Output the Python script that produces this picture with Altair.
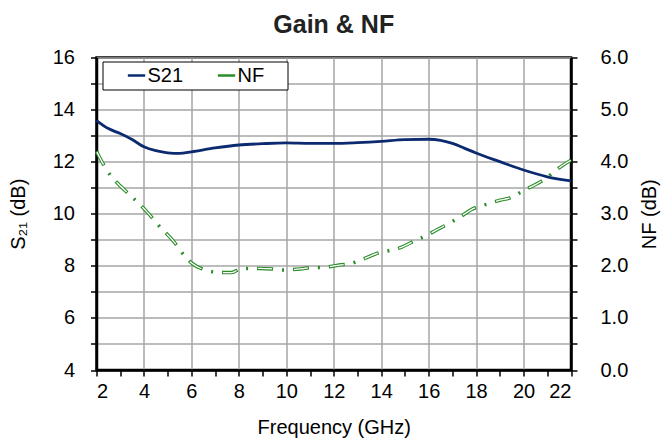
import altair as alt
import pandas as pd

# ---- data ----
freq_s21 = [2, 2.5, 3, 3.5, 4, 4.5, 5, 5.5, 6, 7, 8, 9, 10, 11, 12, 13, 14, 15, 16, 16.5, 17, 17.5, 18, 19, 20, 21, 22]
s21_db = [13.58, 13.27, 13.08, 12.85, 12.57, 12.42, 12.34, 12.32, 12.38, 12.53, 12.64, 12.69, 12.72, 12.70, 12.70,
          12.73, 12.78, 12.85, 12.86, 12.82, 12.70, 12.52, 12.33, 12.00, 11.68, 11.42, 11.26]

freq_nf = [2.0, 2.35, 2.6, 2.9, 3.5, 4.1, 4.65, 5.25, 5.75, 6.05, 6.45, 7.3, 7.7, 8.1, 8.9, 9.4, 9.8, 10.6, 11.1,
           11.5, 12.3, 12.7, 13.2, 13.9, 14.4, 14.75, 15.5, 15.9, 16.3, 17.0, 17.4, 17.8, 18.5, 19.0, 19.4, 20.1,
           20.5, 20.9, 21.5, 22.0]
nf_db = [4.2, 3.9, 3.73, 3.58, 3.32, 3.05, 2.76, 2.47, 2.17, 2.04, 1.94, 1.87, 1.87, 1.95, 1.95, 1.94, 1.92, 1.94,
         1.97, 1.97, 2.02, 2.04, 2.12, 2.25, 2.3, 2.34, 2.5, 2.58, 2.68, 2.85, 2.96, 3.08, 3.19, 3.26, 3.30, 3.47,
         3.56, 3.67, 3.88, 4.03]

series_names = ["S21", "NF"]
series_colors = ["#0b2a6f", "#2a8c2a"]

s21_df = pd.DataFrame({"freq": freq_s21, "value": s21_db, "series": "S21"})
nf_df = pd.DataFrame({"freq": freq_nf, "value": nf_db, "series": "NF"})

FONT = "Liberation Sans"
GRID = "#a6a6a6"
FS = 20

x_axis = alt.Axis(
    values=list(range(2, 23)),
    labelExpr="datum.value % 2 === 0 ? datum.label : ''",
    gridOpacity={"condition": {"test": "datum.value % 2 === 0", "value": 1}, "value": 0},
    grid=True, gridColor=GRID, gridWidth=1.5,
    title="Frequency (GHz)", titleFontSize=FS, titleFont=FONT, titleFontWeight="normal", titleColor="black",
    titlePadding=16,
    labelFontSize=FS, labelFont=FONT, labelColor="black", labelPadding=5,
    tickColor="black", tickSize=6, tickWidth=1.5,
    domainColor="black", domainWidth=2.5,
)

x_enc = alt.X("freq:Q", scale=alt.Scale(domain=[2, 22], nice=False, zero=False), axis=x_axis)

color_enc = alt.Color(
    "series:N",
    scale=alt.Scale(domain=series_names, range=series_colors),
    legend=alt.Legend(
        orient="none", legendX=6, legendY=4, direction="horizontal",
        title="NF", titleOrient="right", titleOpacity=0, titleFontSize=14, titlePadding=0,
        symbolType="stroke", symbolSize=300, symbolStrokeWidth=2.5, symbolOffset=20,
        labelFontSize=FS, labelFont=FONT, labelColor="black", labelOffset=1,
        columnPadding=13, padding=4, strokeColor="black", fillColor="white",
    ),
)

left_axis = alt.Axis(
    values=list(range(4, 17)),
    labelExpr="datum.value % 2 === 0 ? datum.label : ''",
    grid=True, gridColor=GRID, gridWidth=1.5,
    title="S₂₁ (dB)", titleFontSize=FS, titleFont=FONT, titleFontWeight="normal", titleColor="black",
    titlePadding=24,
    labelFontSize=FS, labelFont=FONT, labelColor="black", labelPadding=16,
    tickColor="black", tickSize=6, tickWidth=1.5,
    domainColor="black", domainWidth=2.5,
)

right_axis = alt.Axis(
    orient="right",
    values=[i * 0.5 for i in range(13)],
    labelExpr="datum.value % 1 === 0 ? format(datum.value, '.1f') : ''",
    grid=False,
    title="NF (dB)", titleFontSize=FS, titleFont=FONT, titleFontWeight="normal", titleColor="black",
    titlePadding=32, titleAngle=270,
    labelFontSize=FS, labelFont=FONT, labelColor="black", labelPadding=23,
    tickColor="black", tickSize=6, tickWidth=1.5,
    domainColor="black", domainWidth=2.5,
)

s21_layer = alt.Chart(s21_df).mark_line(strokeWidth=2.8, interpolate="monotone").encode(
    x=x_enc,
    y=alt.Y("value:Q", scale=alt.Scale(domain=[4, 16], nice=False, zero=False), axis=left_axis),
    color=color_enc,
)

nf_y_scale = alt.Scale(domain=[0, 6], nice=False, zero=False)

nf_layer = alt.Chart(nf_df).mark_line(strokeWidth=3.5, strokeDash=[16, 9, 2, 9], interpolate="monotone").encode(
    x=x_enc,
    y=alt.Y("value:Q", scale=nf_y_scale, axis=right_axis),
    color=color_enc,
)

nf_hollow = alt.Chart(nf_df).mark_line(
    strokeWidth=1.3, strokeDash=[14, 22], strokeDashOffset=35, interpolate="monotone", color="white"
).encode(
    x=x_enc,
    y=alt.Y("value:Q", scale=nf_y_scale, axis=right_axis),
)

chart = alt.layer(
    s21_layer,
    alt.layer(nf_layer, nf_hollow),
).resolve_scale(y="independent", color="shared").properties(
    width=474.5,
    height=312.5,
    padding={"left": 96.5, "top": 57.5, "right": 92, "bottom": 73},
    autosize=alt.AutoSizeParams(type="none"),
    title=alt.Title("Gain & NF", fontSize=25, font=FONT, fontWeight="bold", color="#222222",
                    anchor="middle", offset=10),
    background="white",
).configure_view(stroke="black", strokeWidth=2.5)

chart.save("out.html", embed_options={"renderer": "svg", "actions": False})
